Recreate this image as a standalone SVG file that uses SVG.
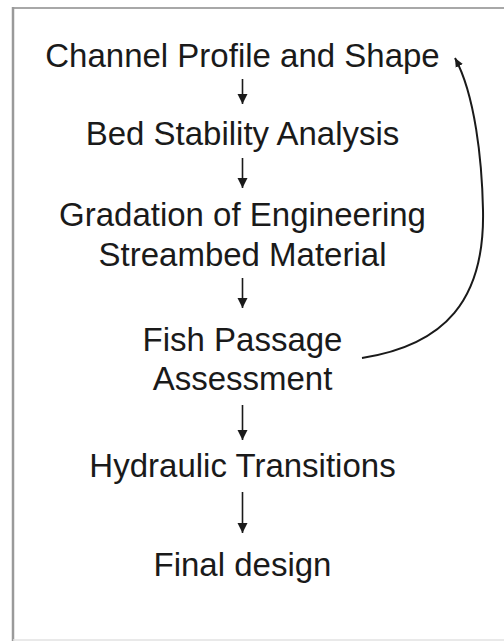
<svg xmlns="http://www.w3.org/2000/svg" width="504" height="641" viewBox="0 0 504 641">
  <style>
    .lbl { font-family: "Liberation Sans", Arial, sans-serif; font-size: 33px; fill: #1a1a1a; text-anchor: middle; }
    .arr { stroke: #1a1a1a; stroke-width: 1.6; fill: none; }
    .loop { stroke: #1a1a1a; stroke-width: 2; fill: none; }
  </style>
  <defs>
    <marker id="head" markerUnits="userSpaceOnUse" markerWidth="12" markerHeight="12" viewBox="0 0 12 12" refX="11" refY="6" orient="auto">
      <path d="M1,1 L11,6 L1,11 Z" fill="#1a1a1a"/>
    </marker>
    <marker id="headSmall" markerUnits="userSpaceOnUse" markerWidth="10" markerHeight="10" viewBox="0 0 10 10" refX="9" refY="5" orient="auto">
      <path d="M0,1 L9,5 L0,9 Z" fill="#1a1a1a"/>
    </marker>
  </defs>
  <rect x="0" y="0" width="504" height="641" fill="#ffffff"/>
  <g id="frame">
    <line x1="13" y1="8" x2="504" y2="8" stroke="#a8a8a8" stroke-width="2"/>
    <line x1="13" y1="7" x2="13" y2="641" stroke="#9a9a9a" stroke-width="2.5"/>
    <line x1="13" y1="640" x2="504" y2="640" stroke="#e2e2e2" stroke-width="1.5"/>
  </g>
  <g id="n1"><text class="lbl" x="242.5" y="67">Channel Profile and Shape</text></g>
  <g id="n2"><text class="lbl" x="242.5" y="145">Bed Stability Analysis</text></g>
  <g id="n3"><text class="lbl" x="242.5" y="226">Gradation of Engineering</text><text class="lbl" x="242.5" y="266">Streambed Material</text></g>
  <g id="n4"><text class="lbl" x="242.5" y="351">Fish Passage</text><text class="lbl" x="242.5" y="390">Assessment</text></g>
  <g id="n5"><text class="lbl" x="242.5" y="477">Hydraulic Transitions</text></g>
  <g id="n6"><text class="lbl" x="242.5" y="576">Final design</text></g>
  <g id="connectors">
    <line class="arr" x1="242.5" y1="79" x2="242.5" y2="104" marker-end="url(#head)"/>
    <line class="arr" x1="242.5" y1="158" x2="242.5" y2="188" marker-end="url(#head)"/>
    <line class="arr" x1="242.5" y1="278" x2="242.5" y2="308" marker-end="url(#head)"/>
    <line class="arr" x1="242.5" y1="405" x2="242.5" y2="440" marker-end="url(#head)"/>
    <line class="arr" x1="242.5" y1="492" x2="242.5" y2="533" marker-end="url(#head)"/>
    <path class="loop" d="M362,358 C445,345 485,300 483,210 C482,160 475,95 455,58" marker-end="url(#headSmall)"/>
  </g>
</svg>
